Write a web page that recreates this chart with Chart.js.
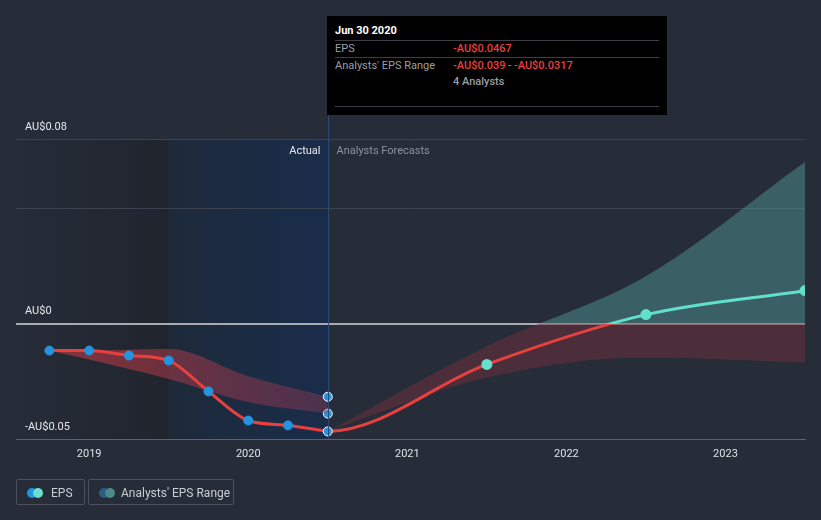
<!DOCTYPE html>
<html>
<head>
<meta charset="utf-8">
<script src="https://cdn.jsdelivr.net/npm/chart.js@4.4.1/dist/chart.umd.min.js"></script>
<style>
  html, body { margin: 0; padding: 0; background: #262c38; }
  body { width: 821px; height: 520px; position: relative; overflow: hidden; font-family: Roboto, "Noto Sans", sans-serif; }
  #chart { position: absolute; left: 0; top: 0; }
  .tip { position: absolute; left: 327px; top: 16px; width: 340px; height: 99px; background: #000; color: #9a9ea6; font-size: 11px; }
  .tip .row { position: absolute; left: 8px; width: 324px; }
  .tip .sep { position: absolute; left: 8px; width: 324px; height: 1px; background: #3c3f45; }
  .tip .val { position: absolute; left: 118px; }
  .red { color: #e8403f; font-weight: 500; }
  .legend { position: absolute; top: 479px; height: 26px; border: 1px solid #4b515d; border-radius: 2px; color: #c9ccd2; font-size: 12px; line-height: 26px; box-sizing: border-box; }
  .dot { position: absolute; top: 8px; width: 10px; height: 10px; border-radius: 50%; }
</style>
</head>
<body>
<canvas id="chart" width="821" height="520"></canvas>

<div class="tip">
  <div class="row" style="top:8px;color:#fff;font-weight:bold;">Jun 30 2020</div>
  <div class="sep" style="top:24px"></div>
  <div class="row" style="top:26px">EPS<span class="val red">-AU$0.0467</span></div>
  <div class="sep" style="top:41px"></div>
  <div class="row" style="top:43px">Analysts' EPS Range<span class="val"><span class="red">-AU$0.039</span> - <span class="red">-AU$0.0317</span></span></div>
  <div class="row" style="top:59px"><span class="val" style="font-weight:500">4 Analysts</span></div>
  <div class="sep" style="top:90px"></div>
</div>

<div class="legend" style="left:16px;width:69px;">
  <span class="dot" style="left:10px;background:#2394df"></span>
  <span class="dot" style="left:16px;background:#6ce0cf"></span>
  <span style="position:absolute;left:34px">EPS</span>
</div>
<div class="legend" style="left:88px;width:146px;">
  <span class="dot" style="left:10px;background:#2b5c82"></span>
  <span class="dot" style="left:16px;background:#4c8a88"></span>
  <span style="position:absolute;left:32px">Analysts' EPS Range</span>
</div>

<script>
// dates as decimal years
const actualX = [2018.75, 2019, 2019.25, 2019.5, 2019.75, 2020, 2020.25, 2020.5];
const actualEPS = [-0.0117, -0.0117, -0.0138, -0.016, -0.0294, -0.042, -0.0441, -0.0467];

const pastRangeX = [2018.75, 2019, 2019.5, 2020, 2020.5];
const pastRangeHigh = [-0.0117, -0.0117, -0.011, -0.0228, -0.0317];
const pastRangeLow = [-0.0117, -0.0156, -0.024, -0.034, -0.039];

// first entry is the last actual quarter before Jun 2020, only used to shape the curve
const forecastX = [2020.25, 2020.5, 2021.5, 2022.5, 2023.5];
const forecastEPS = [-0.0441, -0.0467, -0.0177, 0.0039, 0.0143];

const rangeX = [2020.5, 2021.5, 2022.5, 2023.5];
const forecastHigh = [-0.0467, -0.0098, 0.0205, 0.070];
const forecastLow = [-0.0467, -0.0234, -0.0147, -0.0169];

const xTicks = [2019, 2020, 2021, 2022, 2023];
const yTicks = [-0.05, 0, 0.05, 0.08];
const yTickLabels = ['-AU$0.05', 'AU$0', '', 'AU$0.08'];

const RED = '#e8403f';
const CYAN = '#62e0cc';
const BLUE = '#2394df';

function pts(xs, ys) {
  return xs.map((x, i) => ({ x: x, y: ys[i] }));
}

// gradient split at zero
function zeroSplit(chart, above, below) {
  const area = chart.chartArea;
  if (!area) return below;
  const c = chart.ctx;
  const y0 = chart.scales.y.getPixelForValue(0);
  const f = Math.min(1, Math.max(0, (y0 - area.top) / (area.bottom - area.top)));
  const g = c.createLinearGradient(0, area.top, 0, area.bottom);
  g.addColorStop(0, above);
  g.addColorStop(f, above);
  g.addColorStop(f, below);
  g.addColorStop(1, below);
  return g;
}

const backdrop = {
  id: 'backdrop',
  beforeDraw(chart) {
    const c = chart.ctx;
    const a = chart.chartArea;
    const x = chart.scales.x;
    const xMid = x.getPixelForValue(2019.5);
    const xNow = x.getPixelForValue(2020.5);
    c.save();
    let g = c.createLinearGradient(a.left, 0, xMid, 0);
    g.addColorStop(0, '#262c38');
    g.addColorStop(1, '#20242d');
    c.fillStyle = g;
    c.fillRect(a.left, a.top, xMid - a.left, a.bottom - a.top);
    g = c.createLinearGradient(xMid, 0, xNow, 0);
    g.addColorStop(0, '#1e2a3a');
    g.addColorStop(1, '#192c4a');
    c.fillStyle = g;
    c.fillRect(xMid, a.top, xNow - xMid, a.bottom - a.top);
    c.restore();
  },
  afterDatasetsDraw(chart) {
    const c = chart.ctx;
    const a = chart.chartArea;
    const xNow = Math.round(chart.scales.x.getPixelForValue(2020.5)) + 0.5;
    c.save();
    c.strokeStyle = '#2b4a78';
    c.lineWidth = 1;
    c.beginPath();
    c.moveTo(xNow, 115);
    c.lineTo(xNow, a.bottom);
    c.stroke();
    c.font = '11px Roboto, sans-serif';
    c.textBaseline = 'middle';
    c.textAlign = 'right';
    c.fillStyle = '#e6e8ec';
    c.fillText('Actual', xNow - 8, a.top + 12);
    c.textAlign = 'left';
    c.fillStyle = '#8d929b';
    c.fillText('Analysts Forecasts', xNow + 8, a.top + 12);
    c.restore();
  }
};

new Chart(document.getElementById('chart'), {
  type: 'line',
  data: {
    datasets: [
      {
        label: 'EPS',
        data: pts(actualX, actualEPS),
        borderColor: RED,
        borderWidth: 3,
        cubicInterpolationMode: 'monotone',
        pointRadius: 4.5,
        pointBackgroundColor: BLUE,
        pointBorderColor: ctx => ctx.dataIndex === actualX.length - 1 ? '#ffffff' : BLUE,
        pointBorderWidth: 1,
        fill: false,
        order: 0
      },
      {
        label: 'Forecast EPS',
        data: pts(forecastX, forecastEPS),
        borderColor: ctx => zeroSplit(ctx.chart, CYAN, RED),
        borderWidth: 3,
        cubicInterpolationMode: 'monotone',
        segment: {
          borderColor: ctx => ctx.p0DataIndex === 0 ? 'rgba(0,0,0,0)' : undefined
        },
        pointRadius: ctx => ctx.dataIndex < 2 ? 0 : 4,
        pointBackgroundColor: CYAN,
        pointBorderColor: CYAN,
        fill: false,
        order: 1
      },
      {
        label: 'Past range high',
        data: pts(pastRangeX, pastRangeHigh),
        borderWidth: 0,
        borderColor: 'rgba(0,0,0,0)',
        cubicInterpolationMode: 'monotone',
        pointRadius: ctx => ctx.dataIndex === pastRangeX.length - 1 ? 4.5 : 0,
        pointBackgroundColor: BLUE,
        pointBorderColor: '#ffffff',
        pointBorderWidth: 1,
        fill: '+1',
        backgroundColor: ctx => {
          const a = ctx.chart.chartArea;
          if (!a) return 'rgba(200,60,70,0.45)';
          const x = ctx.chart.scales.x;
          const g = ctx.chart.ctx.createLinearGradient(x.getPixelForValue(2018.75), 0, x.getPixelForValue(2020.5), 0);
          g.addColorStop(0, 'rgba(215,60,70,0.55)');
          g.addColorStop(1, 'rgba(170,60,85,0.35)');
          return g;
        },
        order: 2
      },
      {
        label: 'Past range low',
        data: pts(pastRangeX, pastRangeLow),
        borderWidth: 0,
        borderColor: 'rgba(0,0,0,0)',
        cubicInterpolationMode: 'monotone',
        pointRadius: ctx => ctx.dataIndex === pastRangeX.length - 1 ? 4.5 : 0,
        pointBackgroundColor: BLUE,
        pointBorderColor: '#ffffff',
        pointBorderWidth: 1,
        fill: false,
        order: 3
      },
      {
        label: 'Forecast range high',
        data: pts(rangeX, forecastHigh),
        borderWidth: 0,
        borderColor: 'rgba(0,0,0,0)',
        cubicInterpolationMode: 'monotone',
        pointRadius: 0,
        fill: '+1',
        backgroundColor: ctx => zeroSplit(ctx.chart, 'rgba(74,140,138,0.55)', 'rgba(112,48,60,0.5)'),
        order: 4
      },
      {
        label: 'Forecast range low',
        data: pts(rangeX, forecastLow),
        borderWidth: 0,
        borderColor: 'rgba(0,0,0,0)',
        cubicInterpolationMode: 'monotone',
        pointRadius: 0,
        fill: false,
        order: 5
      }
    ]
  },
  options: {
    responsive: false,
    animation: false,
    events: [],
    layout: { padding: { top: 139, left: 16, right: 16, bottom: 0 } },
    plugins: {
      legend: { display: false },
      tooltip: { enabled: false }
    },
    scales: {
      x: {
        type: 'linear',
        min: 2018.54,
        max: 2023.5,
        afterBuildTicks: scale => { scale.ticks = xTicks.map(v => ({ value: v })); },
        afterFit: scale => { scale.height = 81; },
        grid: { display: false },
        border: { display: true, color: '#5c6270', width: 1 },
        ticks: {
          color: '#dfe1e5',
          font: { family: 'Roboto', size: 11 },
          padding: 1,
          maxRotation: 0,
          callback: v => String(v)
        }
      },
      y: {
        type: 'linear',
        min: -0.05,
        max: 0.08,
        afterBuildTicks: scale => { scale.ticks = yTicks.map(v => ({ value: v })); },
        afterFit: scale => { scale.width = 0; },
        border: { display: false },
        grid: {
          drawTicks: false,
          color: ctx => ctx.tick && ctx.tick.value === 0 ? '#a9abb0' : (ctx.tick && ctx.tick.value === -0.05 ? '#5c6270' : '#3b4250'),
          lineWidth: ctx => ctx.tick && ctx.tick.value === 0 ? 2 : 1
        },
        ticks: {
          mirror: true,
          padding: 9,
          labelOffset: -12,
          color: '#e6e8ec',
          font: { family: 'Roboto', size: 11 },
          callback: v => yTickLabels[yTicks.indexOf(v)]
        }
      }
    }
  },
  plugins: [backdrop]
});
</script>
</body>
</html>
